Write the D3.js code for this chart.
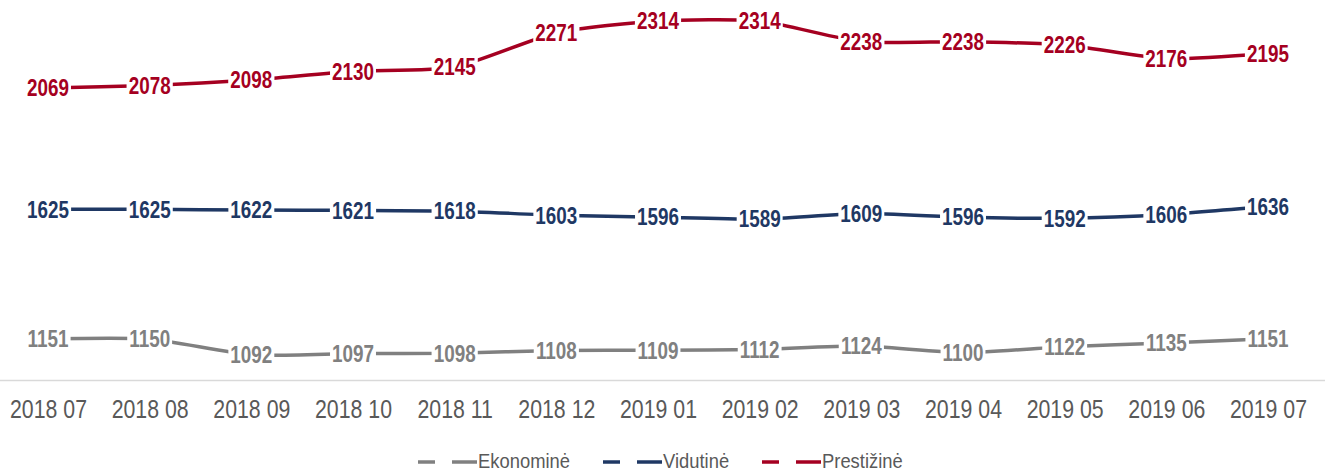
<!DOCTYPE html>
<html>
<head>
<meta charset="utf-8">
<script src="https://cdn.jsdelivr.net/npm/d3@7"></script>
<style>
  body { margin: 0; background: #fff; }
  svg { display: block; }
  text { font-family: "Liberation Sans", Arial, sans-serif; }
  .lbl { font-weight: bold; font-size: 23px; }
  .tick text { font-size: 26px; fill: #595959; }
  .legend text { font-size: 20px; fill: #595959; }
</style>
</head>
<body>
<svg id="chart" width="1325" height="473"></svg>
<script>
var months = ["2018 07", "2018 08", "2018 09", "2018 10", "2018 11", "2018 12",
    "2019 01", "2019 02", "2019 03", "2019 04", "2019 05", "2019 06", "2019 07"];
var ekonomine = [1151, 1150, 1092, 1097, 1098, 1108, 1109, 1112, 1124, 1100, 1122, 1135, 1151];
var vidutine = [1625, 1625, 1622, 1621, 1618, 1603, 1596, 1589, 1609, 1596, 1592, 1606, 1636];
var prestizine = [2069, 2078, 2098, 2130, 2145, 2271, 2314, 2314, 2238, 2238, 2226, 2176, 2195];

var series = [
    {name: "Ekonominė", values: ekonomine, color: "#808080"},
    {name: "Vidutinė", values: vidutine, color: "#1f3864"},
    {name: "Prestižinė", values: prestizine, color: "#a50021"}
];

// narrow look: squeeze text horizontally
var narrow = 0.82;

var svg = d3.select("#chart");

var x = d3.scalePoint()
    .domain(months)
    .range([48, 1268]);

var y = d3.scaleLinear()
    .domain([1000, 2400])
    .range([380, -2.5]);

// x axis
var xAxis = svg.append("g")
    .attr("transform", "translate(0,380)")
    .call(d3.axisBottom(x).tickSize(0).tickPadding(0));
xAxis.select(".domain").remove();
xAxis.selectAll(".tick text")
    .attr("y", 0).attr("dy", null)
    .attr("transform", "translate(0,31) scale(" + narrow + ",1)")
    .attr("dominant-baseline", "middle");
svg.append("line")
    .attr("x1", 0).attr("x2", 1325)
    .attr("y1", 380.5).attr("y2", 380.5)
    .attr("stroke", "#d9d9d9").attr("stroke-width", 1.5);

var line = d3.line()
    .x(function(d, i) { return x(months[i]); })
    .y(function(d) { return y(d); })
    .curve(d3.curveCardinal.tension(0.4));

series.forEach(function(s) {
    svg.append("path")
        .attr("d", line(s.values))
        .attr("fill", "none")
        .attr("stroke", s.color)
        .attr("stroke-width", 3.5);
});

// data labels with white boxes
series.forEach(function(s) {
    var g = svg.append("g");
    s.values.forEach(function(v, i) {
        var cx = x(months[i]), cy = y(v);
        var box = g.append("rect").attr("fill", "#fff");
        var t = g.append("text")
            .attr("class", "lbl")
            .attr("transform", "translate(" + cx + "," + cy + ") scale(" + narrow + ",1)")
            .attr("dy", "0.36em")
            .attr("text-anchor", "middle")
            .attr("fill", s.color)
            .text(v);
        var w = t.node().getBBox().width * narrow;
        box.attr("x", cx - w / 2 - 2).attr("y", cy - 10)
            .attr("width", w + 4).attr("height", 20);
    });
});

// legend
var legend = svg.append("g").attr("class", "legend");
var lx = [418, 603, 762];
series.forEach(function(s, i) {
    var g = legend.append("g").attr("transform", "translate(" + lx[i] + ",462)");
    [[0, 17], [34, 59]].forEach(function(seg) {
        g.append("line")
            .attr("x1", seg[0]).attr("x2", seg[1])
            .attr("y1", 0).attr("y2", 0)
            .attr("stroke", s.color).attr("stroke-width", 3.5);
    });
    g.append("text")
        .attr("transform", "translate(60,6) scale(0.92,1)")
        .text(s.name);
});
</script>
</body>
</html>
